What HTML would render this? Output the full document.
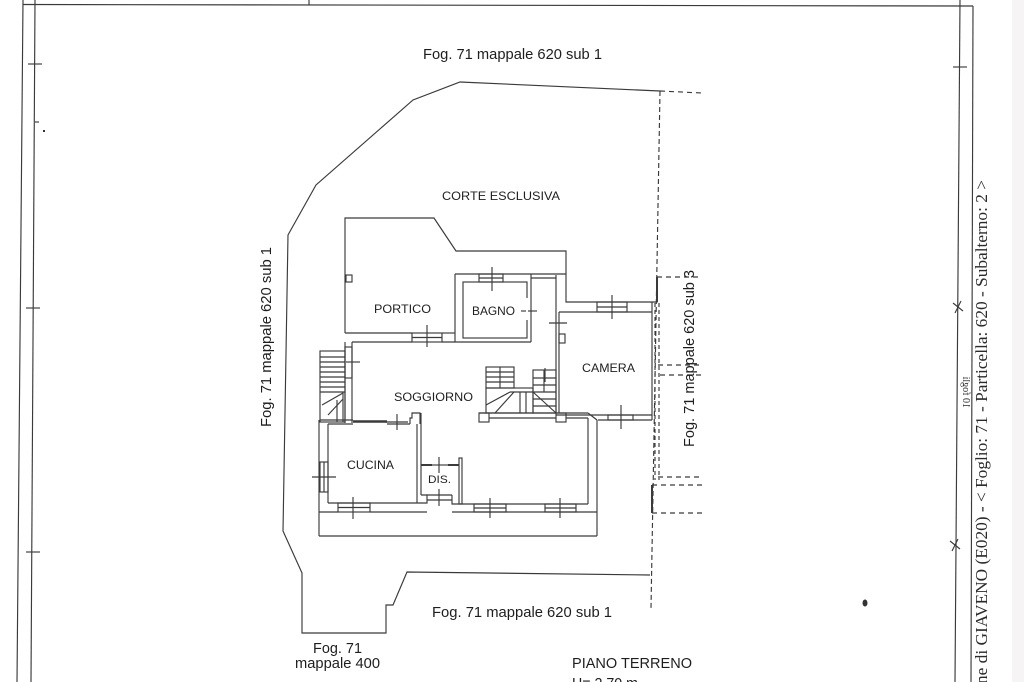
<!DOCTYPE html>
<html><head><meta charset="utf-8"><style>
html,body{margin:0;padding:0;background:#fff;}
svg{display:block}
text{font-family:"Liberation Sans",Arial,sans-serif;fill:#1e1e1e}
.s{font-family:"Liberation Serif","Times New Roman",serif;fill:#2a2a2a}
</style></head><body>
<svg width="1024" height="682" viewBox="0 0 1024 682" xmlns="http://www.w3.org/2000/svg">
<rect x="0" y="0" width="1024" height="682" fill="#fff"/>
<rect x="1012" y="0" width="12" height="682" fill="#f6f4f4"/>
<g stroke="#3a3a3a" stroke-width="1.15" fill="none">
<!-- frame -->
<line x1="23" y1="4.5" x2="973" y2="6"/>
<line x1="309" y1="0" x2="309" y2="4.5"/>
<line x1="23" y1="0" x2="17" y2="682"/>
<line x1="35" y1="0" x2="31" y2="682"/>
<line x1="28" y1="64" x2="42" y2="64"/>
<line x1="35" y1="122" x2="39" y2="122"/>
<line x1="26" y1="308" x2="40" y2="308"/>
<line x1="26" y1="552" x2="40" y2="552"/>
<line x1="960" y1="0" x2="955" y2="682"/>
<line x1="973" y1="6" x2="971" y2="682"/>
<line x1="953" y1="67" x2="967" y2="67"/>
<line x1="953" y1="303" x2="963" y2="311"/><line x1="961" y1="301" x2="955" y2="313"/>
<line x1="950" y1="541" x2="960" y2="549"/><line x1="958" y1="539" x2="952" y2="551"/>

<!-- property boundary -->
<polyline points="660,91 460,82 413,100 316,185 288,235 283,531 302,573 302,633 386,633 386,605 393,605 407,572 650,575"/>
<line x1="660" y1="91" x2="702" y2="93" stroke-dasharray="5,4"/>
<line x1="660" y1="91" x2="651" y2="608" stroke-dasharray="5,3"/>

<!-- portico outline -->
<polyline points="345,333 345,218 434,218 456,251 566,251 566,302 657,302 657,277"/>
<rect x="346" y="275" width="6" height="7"/>
<line x1="657" y1="277" x2="702" y2="277" stroke-dasharray="5,4"/>
<line x1="657" y1="277" x2="657" y2="302" stroke-width="2"/>

<!-- portico / soggiorno wall -->
<line x1="345" y1="333" x2="412" y2="333"/>
<line x1="442" y1="333" x2="455" y2="333"/>
<line x1="352" y1="342" x2="412" y2="342"/>
<line x1="442" y1="342" x2="531" y2="342"/>
<rect x="412" y="333" width="30" height="9"/>
<line x1="412" y1="337.5" x2="442" y2="337.5"/>
<line x1="427" y1="325" x2="427" y2="347"/>

<!-- bagno -->
<line x1="455" y1="274" x2="566" y2="274"/>
<line x1="455" y1="274" x2="455" y2="342"/>
<line x1="531" y1="274" x2="531" y2="342"/>
<rect x="463" y="282" width="64" height="56"/>
<rect x="479" y="274" width="24" height="8"/>
<line x1="479" y1="278" x2="503" y2="278"/>
<line x1="492" y1="267" x2="492" y2="291"/>
<line x1="521" y1="311" x2="537" y2="311"/>
<line x1="527" y1="298" x2="527" y2="320" stroke="#fff" stroke-width="2"/>

<!-- corridor -->
<line x1="531" y1="278" x2="556" y2="278"/>
<line x1="556" y1="275" x2="556" y2="413"/>
<line x1="559" y1="312" x2="559" y2="413"/>
<line x1="549" y1="323" x2="567" y2="323"/>
<rect x="559" y="334" width="6" height="9"/>

<!-- camera -->
<line x1="559" y1="312" x2="652" y2="312"/>
<line x1="652" y1="302" x2="652" y2="420"/>
<rect x="597" y="302" width="30" height="10"/>
<line x1="597" y1="307" x2="627" y2="307"/>
<line x1="612" y1="295" x2="612" y2="319"/>
<line x1="556" y1="415" x2="652" y2="415"/>
<line x1="598" y1="420" x2="652" y2="420"/>
<rect x="608" y="415" width="25" height="5"/>
<line x1="621" y1="405" x2="621" y2="429"/>
<line x1="655" y1="303" x2="655" y2="480" stroke-dasharray="4,3"/>
<line x1="659" y1="303" x2="659" y2="480" stroke-dasharray="4,3"/>
<line x1="658" y1="365" x2="702" y2="365" stroke-dasharray="5,4"/>
<line x1="660" y1="375" x2="702" y2="375" stroke-dasharray="5,4"/>
<line x1="658" y1="477" x2="702" y2="477" stroke-dasharray="5,4"/>
<line x1="652" y1="485" x2="702" y2="485" stroke-dasharray="5,4"/>
<line x1="652" y1="513" x2="702" y2="513" stroke-dasharray="5,4"/>
<line x1="652" y1="485" x2="652" y2="513" stroke-width="2"/>

<!-- left stairs -->
<rect x="320" y="351" width="25" height="71"/>
<path d="M320 357H345M320 362H345M320 367H345M320 372H345M320 377H345M320 382H345M320 387H345M320 392H345"/>
<path d="M322 405L343 393M328 415L343 399M337 400V422M343 392V422"/>
<line x1="345" y1="342" x2="345" y2="423"/>
<line x1="352" y1="342" x2="352" y2="423"/>
<rect x="345" y="347" width="7" height="31"/>
<line x1="346" y1="362" x2="360" y2="362"/>

<!-- central stairs -->
<rect x="486" y="367" width="28" height="21"/>
<path d="M500 367V388M486 372H514M486 377H514M486 382H514"/>
<rect x="486" y="388" width="47" height="25"/>
<path d="M486 405L510 392M495 413L514 392M510 392H533M520 392V413M526 392V413M533 392L556 413"/>
<rect x="533" y="370" width="23" height="43"/>
<path d="M533 378H556M533 385H556M533 392H556M533 399H556M533 406H556M544 370V392"/>
<line x1="545" y1="368" x2="545" y2="382"/>

<!-- landing / soggiorno lower wall -->
<line x1="479" y1="413" x2="588" y2="413"/>
<rect x="479" y="413" width="10" height="9"/>
<rect x="556" y="413" width="10" height="9"/>
<line x1="566" y1="418" x2="588" y2="418"/>
<line x1="489" y1="418" x2="556" y2="418"/>

<!-- cucina -->
<line x1="320" y1="420" x2="353" y2="420"/>
<line x1="328" y1="424" x2="353" y2="424"/>
<line x1="353" y1="421.5" x2="387" y2="421.5" stroke-width="2.5"/>
<line x1="387" y1="424" x2="410" y2="424"/>
<line x1="385" y1="422" x2="408" y2="422"/>
<line x1="397" y1="414" x2="397" y2="430"/>
<polyline points="410,424 410,418 412,418 412,413 420,413 420,424"/>
<line x1="319" y1="420" x2="319" y2="536"/>
<line x1="328" y1="424" x2="328" y2="503"/>
<line x1="328" y1="503" x2="417" y2="503"/>
<line x1="417" y1="424" x2="417" y2="503"/>
<line x1="421" y1="413" x2="421" y2="465"/>
<rect x="320" y="462" width="8" height="30"/>
<line x1="324" y1="462" x2="324" y2="492"/>
<line x1="312" y1="477" x2="336" y2="477"/>
<rect x="338" y="503" width="32" height="9"/>
<line x1="338" y1="507.5" x2="370" y2="507.5"/>
<line x1="353" y1="497" x2="353" y2="519"/>

<!-- DIS -->
<line x1="421" y1="465" x2="432" y2="465" stroke-width="2"/>
<line x1="448" y1="465" x2="459" y2="465" stroke-width="2"/>
<line x1="432" y1="465" x2="448" y2="465"/>
<line x1="439" y1="457" x2="439" y2="473"/>
<line x1="421" y1="465" x2="421" y2="495"/>
<rect x="459" y="458" width="3" height="46"/>
<polyline points="417,503 427,503 427,495 421,495"/>
<line x1="427" y1="495" x2="452" y2="495"/>
<line x1="427" y1="500" x2="452" y2="500"/>
<polyline points="452,495 452,504 462,504"/>
<line x1="439" y1="489" x2="439" y2="506"/>

<!-- lower right room -->
<line x1="462" y1="504" x2="588" y2="504"/>
<line x1="588" y1="418" x2="588" y2="504"/>
<line x1="597" y1="420" x2="597" y2="536"/>
<line x1="588" y1="413" x2="597" y2="420"/>
<rect x="474" y="504" width="32" height="8"/>
<line x1="474" y1="508" x2="506" y2="508"/>
<line x1="490" y1="498" x2="490" y2="518"/>
<rect x="545" y="504" width="31" height="8"/>
<line x1="545" y1="508" x2="576" y2="508"/>
<line x1="560" y1="498" x2="560" y2="518"/>

<!-- bottom terrace -->
<line x1="319" y1="512" x2="338" y2="512"/>
<line x1="370" y1="512" x2="427" y2="512"/>
<line x1="452" y1="512" x2="597" y2="512"/>
<line x1="319" y1="536" x2="597" y2="536"/>
</g>

<!-- marks -->
<rect x="43" y="130" width="2" height="2" fill="#333"/>
<ellipse cx="865" cy="603" rx="2.5" ry="3.5" fill="#333"/>

<!-- labels -->
<text x="423" y="59" font-size="15" textLength="179" lengthAdjust="spacingAndGlyphs">Fog. 71 mappale 620 sub 1</text>
<text x="442" y="200" font-size="12" textLength="118" lengthAdjust="spacingAndGlyphs">CORTE ESCLUSIVA</text>
<text x="374" y="313" font-size="12" textLength="57" lengthAdjust="spacingAndGlyphs">PORTICO</text>
<text x="472" y="315" font-size="12" textLength="43" lengthAdjust="spacingAndGlyphs">BAGNO</text>
<text x="582" y="372" font-size="12" textLength="53" lengthAdjust="spacingAndGlyphs">CAMERA</text>
<text x="394" y="401" font-size="12" textLength="79" lengthAdjust="spacingAndGlyphs">SOGGIORNO</text>
<text x="347" y="469" font-size="12" textLength="47" lengthAdjust="spacingAndGlyphs">CUCINA</text>
<text x="428" y="483" font-size="11" textLength="23" lengthAdjust="spacingAndGlyphs">DIS.</text>
<text transform="translate(271,427) rotate(-90)" font-size="15" textLength="180" lengthAdjust="spacingAndGlyphs">Fog. 71 mappale 620 sub 1</text>
<text transform="translate(694,447) rotate(-90)" font-size="15" textLength="177" lengthAdjust="spacingAndGlyphs">Fog. 71 mappale 620 sub 3</text>
<text x="432" y="617" font-size="15" textLength="180" lengthAdjust="spacingAndGlyphs">Fog. 71 mappale 620 sub 1</text>
<text x="313" y="653" font-size="15" textLength="49" lengthAdjust="spacingAndGlyphs">Fog. 71</text>
<text x="295" y="668" font-size="15" textLength="85" lengthAdjust="spacingAndGlyphs">mappale 400</text>
<text x="572" y="668" font-size="15" textLength="120" lengthAdjust="spacingAndGlyphs">PIANO TERRENO</text>
<text x="572" y="688" font-size="15" textLength="66" lengthAdjust="spacingAndGlyphs">H= 2,70 m</text>
<text class="s" transform="translate(987,684) rotate(-90)" font-size="17" textLength="504" lengthAdjust="spacingAndGlyphs">ne di GIAVENO (E020) - &lt; Foglio: 71 - Particella: 620 - Subalterno: 2 &gt;</text>
<text class="s" transform="translate(963,408) rotate(90) scale(-1,1)" font-size="10" fill="#333">10 fogli</text>
</svg>
</body></html>
